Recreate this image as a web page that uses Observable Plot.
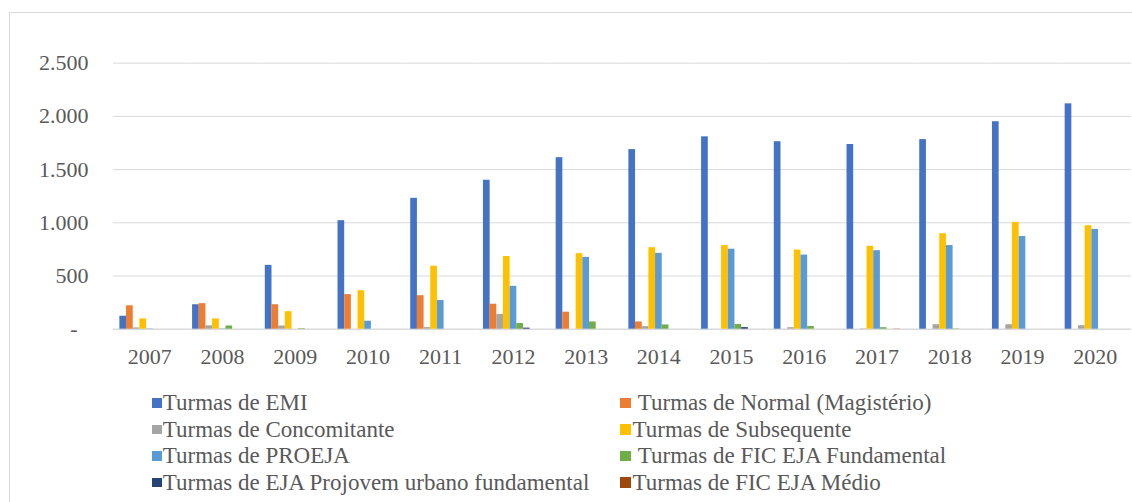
<!DOCTYPE html>
<html><head><meta charset="utf-8">
<script src="https://cdn.jsdelivr.net/npm/d3@7"></script>
<script src="https://cdn.jsdelivr.net/npm/@observablehq/plot@0.6"></script>
<style>
html,body{margin:0;padding:0;background:#fff;overflow:hidden}
#wrap{position:relative;width:1132px;height:502px;font-family:"Liberation Serif","Times New Roman",serif;color:#595959}
#frame{position:absolute;left:9px;top:12px;width:1140px;height:600px;border:1px solid #d9d9d9;box-sizing:border-box}
#chart{position:absolute;left:0;top:0}
.item{position:absolute;display:flex;align-items:center;height:26px;font-size:23px;line-height:26px;white-space:pre}
.sw{display:inline-block;width:9.5px;height:9.5px;margin-right:1px;flex:none}
</style></head><body>
<div id="wrap"><div id="frame"></div><div id="chart"></div><div id="legend"></div></div>
<script>
const years = [2007, 2008, 2009, 2010, 2011, 2012, 2013, 2014, 2015, 2016, 2017, 2018, 2019, 2020];
const seriesNames = [
  "Turmas de EMI",
  "Turmas de Normal (Magistério)",
  "Turmas de Concomitante",
  "Turmas de Subsequente",
  "Turmas de PROEJA",
  "Turmas de FIC EJA Fundamental",
  "Turmas de EJA Projovem urbano fundamental",
  "Turmas de FIC EJA Médio"
];
const legendLabels = [
  "Turmas de EMI",
  " Turmas de Normal (Magistério)",
  "Turmas de Concomitante",
  "Turmas de Subsequente",
  "Turmas de PROEJA",
  " Turmas de FIC EJA Fundamental",
  "Turmas de EJA Projovem urbano fundamental",
  "Turmas de FIC EJA Médio"
];
const emi         = [122, 230, 600, 1020, 1230, 1400, 1612, 1688, 1808, 1762, 1736, 1782, 1950, 2118];
const normal      = [220, 240, 230, 325, 315, 235, 160, 68, 0, 0, 0, 0, 0, 0];
const concomitante= [12, 32, 30, 0, 15, 138, 0, 24, 0, 14, 3, 42, 42, 33];
const subsequente = [97, 97, 165, 362, 592, 683, 710, 766, 786, 744, 779, 898, 1004, 973];
const proeja      = [3, 3, 0, 75, 270, 403, 675, 713, 752, 697, 738, 786, 871, 938];
const ficFund     = [0, 30, 5, 0, 0, 53, 68, 40, 44, 25, 14, 3, 0, 0];
const projovem    = [0, 0, 0, 0, 0, 10, 0, 0, 15, 0, 0, 0, 0, 0];
const ficMedio    = [0, 0, 0, 0, 0, 0, 0, 0, 0, 0, 2, 0, 0, 0];
const yTicks = [0, 500, 1000, 1500, 2000, 2500];
const colors = ["#4472C4", "#ED7D31", "#A5A5A5", "#FFC000", "#5B9BD5", "#70AD47", "#264478", "#9E480E"];

const seriesValues = [emi, normal, concomitante, subsequente, proeja, ficFund, projovem, ficMedio];
const data = years.flatMap((yr, i) => seriesNames.map((s, j) => ({year: yr, series: s, value: seriesValues[j][i]})));

const loc = d3.formatLocale({decimal: ",", thousands: ".", grouping: [3], currency: ["", ""]});
const fmt = loc.format(",");

const chart = Plot.plot({
  width: 1132, height: 375,
  marginLeft: 113, marginRight: 1, marginTop: 62.7, marginBottom: 46.3,
  style: {fontFamily: '"Liberation Serif","Times New Roman",serif', fontSize: "22px", color: "#595959", background: "transparent", overflow: "visible"},
  fx: {domain: years, padding: 0, round: false, label: null, axis: null},
  x: {domain: seriesNames, paddingInner: 0, paddingOuter: 1.45, align: 0.33, round: false, axis: null},
  y: {domain: [0, 2500], label: null, axis: null},
  color: {domain: seriesNames, range: colors},
  marks: [
    Plot.gridY(yTicks.filter(d => d > 0), {stroke: "#d9d9d9", strokeOpacity: 1, strokeWidth: 1}),
    Plot.ruleY([0], {stroke: "#d9d9d9", strokeWidth: 1.5}),
    Plot.barY(data, {fx: "year", x: "series", y: "value", fill: "series", inset: 0}),
    Plot.axisY(yTicks, {tickSize: 0, tickPadding: 25, tickFormat: d => d === 0 ? "-\u2007" : fmt(d), fontSize: 22, label: null, fill: "#595959"}),
    Plot.axisFx({anchor: "bottom", tickSize: 0, tickPadding: 19, fontSize: 22, label: null, tickFormat: d => String(d), fill: "#595959"})
  ]
});
document.getElementById("chart").appendChild(chart);

const legend = document.getElementById("legend");
const colLeft = [152.3, 620];
const rowCenter = [403, 429.5, 456, 482.5];
seriesNames.forEach((s, k) => {
  const item = document.createElement("div");
  item.className = "item";
  item.style.left = colLeft[k % 2] + "px";
  item.style.top = (rowCenter[Math.floor(k / 2)] - 13) + "px";
  const sw = document.createElement("span");
  sw.className = "sw";
  sw.style.background = colors[k];
  if (k % 2 === 1) { sw.style.width = "10.5px"; sw.style.height = "10.5px"; sw.style.marginRight = "2px"; }
  const tx = document.createElement("span");
  tx.textContent = legendLabels[k];
  item.appendChild(sw);
  item.appendChild(tx);
  legend.appendChild(item);
});
</script>
</body></html>
